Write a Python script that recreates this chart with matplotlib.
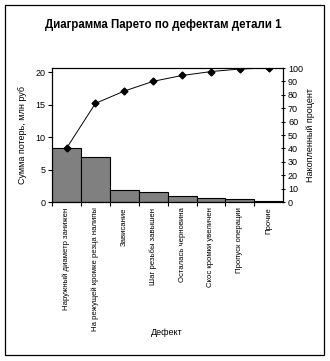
import numpy as np
import matplotlib.pyplot as plt
from matplotlib.patches import Rectangle

plt.rcParams['font.family'] = ['Liberation Sans', 'DejaVu Sans']

# defect categories and losses, mln rub
defects = ['Наружный диаметр занижен',
           'На режущей кромке резца налипы',
           'Зависание',
           'Шаг резьбы завышен',
           'Осталась черновина',
           'Скос кромки увеличен',
           'Пропуск операции',
           'Прочие']
losses = [8.3, 6.9, 1.9, 1.5, 0.9, 0.6, 0.4, 0.15]
left_ticks = [0, 5, 10, 15, 20]
right_ticks = list(range(0, 101, 10))

total = sum(losses)
cum_pct = np.cumsum(losses) / total * 100

fig = plt.figure(figsize=(3.3, 3.61), dpi=100)
ax = fig.add_axes([0.158, 0.4404, 0.7, 0.3712])

x = np.arange(len(defects))
ax.bar(x, losses, width=1.0, color='#808080', edgecolor='black', linewidth=0.8)
ax.set_xlim(-0.5, len(defects) - 0.5)
ax.set_ylim(0, total)
ax.set_yticks(left_ticks)
ax.set_xticks(x - 0.5, minor=True)
ax.set_xticks(x)
ax.set_xticklabels(defects, rotation=90, fontsize=5.6)
ax.tick_params(axis='x', which='major', length=0, pad=4)
ax.tick_params(axis='x', which='minor', length=3, width=0.8, direction='out')
ax.tick_params(axis='y', labelsize=6.5, length=3, width=0.8, pad=2)
ax.set_ylabel('Сумма потерь, млн руб', fontsize=6.5, labelpad=6)

ax2 = ax.twinx()
ax2.plot(x, cum_pct, color='black', linewidth=0.7, marker='D', markersize=3.5)
ax2.set_ylim(0, 100)
ax2.set_yticks(right_ticks)
ax2.tick_params(axis='y', labelsize=6.5, length=3, width=0.8, pad=2, direction='inout')
ax2.set_ylabel('Накопленный процент', fontsize=6.5, labelpad=2)

for a in (ax, ax2):
    for s in a.spines.values():
        s.set_linewidth(0.8)

fig.text(0.494, 0.932, 'Диаграмма Парето по дефектам детали 1',
         ha='center', va='center', fontsize=8.3, fontweight='bold')
fig.text(0.506, 0.078, 'Дефект', ha='center', va='center', fontsize=6.5)

# outer chart frame
fig.patches.append(Rectangle((0.015, 0.017), 0.968, 0.97, transform=fig.transFigure,
                             fill=False, edgecolor='black', linewidth=0.9))

fig.savefig('out.png', dpi=100)
